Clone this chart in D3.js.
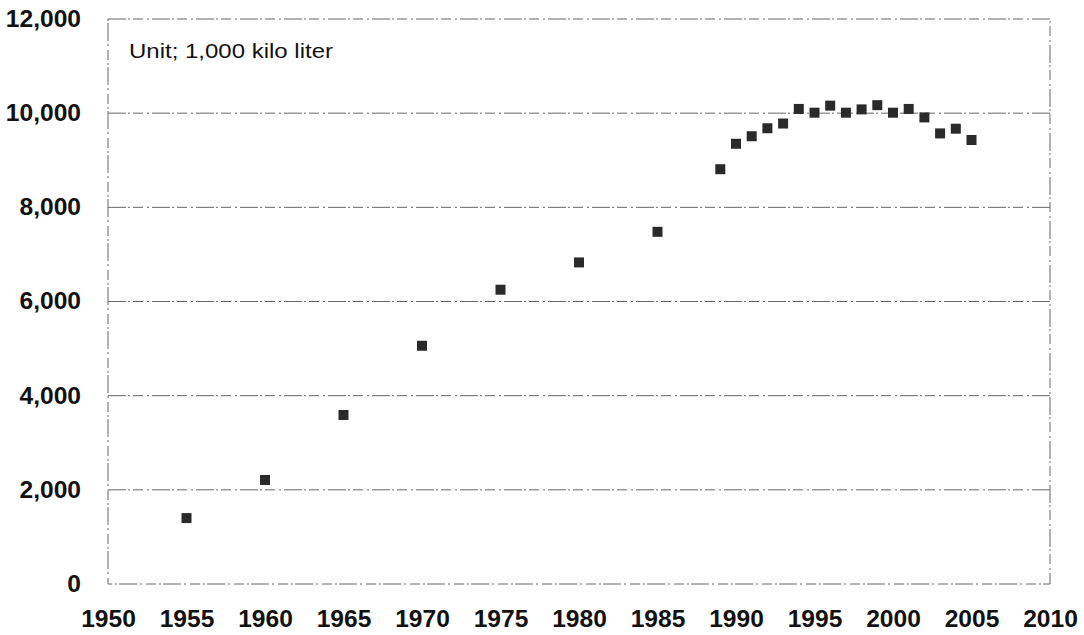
<!DOCTYPE html>
<html>
<head>
<meta charset="utf-8">
<script src="https://cdn.jsdelivr.net/npm/d3@7"></script>
<style>
  body { margin: 0; background: #fff; }
  #chart { width: 1084px; height: 635px; }
  .tick text { font-family: "Liberation Sans", Arial, sans-serif; font-weight: bold; fill: #111; }
</style>
</head>
<body>
<div id="chart"></div>
<script>
// data
let years = [1955, 1960, 1965, 1970, 1975, 1980, 1985, 1989, 1990, 1991, 1992, 1993, 1994, 1995,
  1996, 1997, 1998, 1999, 2000, 2001, 2002, 2003, 2004, 2005];
let volumes = [1400, 2210, 3590, 5060, 6250, 6830, 7480, 8810, 9350, 9510, 9680, 9780, 10090, 10010,
  10160, 10010, 10080, 10170, 10010, 10090, 9910, 9570, 9670, 9430];
let xTicks = [1950, 1955, 1960, 1965, 1970, 1975, 1980, 1985, 1990, 1995, 2000, 2005, 2010];
let yTicks = [0, 2000, 4000, 6000, 8000, 10000, 12000];
let unitLabel = "Unit; 1,000 kilo liter";

let width = 1084;
let height = 635;
let margin = { top: 19, bottom: 51, left: 108, right: 34 };
let lineColor = "#666";
let dotColor = "#2a2a2a";
let dashes = "18,2,2,3,10,4,2,3";
let stretch = 1.07; // the scan is a little wider than it is tall

let svg = d3.select("#chart").append("svg")
  .attr("width", width)
  .attr("height", height);

let xScale = d3.scaleLinear()
  .domain([1950, 2010])
  .range([margin.left, width - margin.right]);

let yScale = d3.scaleLinear()
  .domain([0, 12000])
  .range([height - margin.bottom, margin.top]);

// gridlines
svg.append("g")
  .selectAll("line")
  .data(yTicks.filter(d => d > 0 && d < 12000))
  .enter()
  .append("line")
  .attr("x1", xScale(1950))
  .attr("x2", xScale(2010))
  .attr("y1", d => yScale(d))
  .attr("y2", d => yScale(d))
  .attr("stroke", lineColor)
  .attr("stroke-width", 1)
  .attr("stroke-dasharray", dashes);

// plot frame
svg.append("rect")
  .attr("x", xScale(1950))
  .attr("y", yScale(12000))
  .attr("width", xScale(2010) - xScale(1950))
  .attr("height", yScale(0) - yScale(12000))
  .attr("fill", "none")
  .attr("stroke", lineColor)
  .attr("stroke-width", 1)
  .attr("stroke-dasharray", dashes);

// axes (labels only, lines come from the frame)
let xAxis = svg.append("g")
  .attr("transform", `translate(0, ${yScale(0)})`)
  .call(d3.axisBottom(xScale).tickValues(xTicks).tickFormat(d3.format("d")).tickSize(0).tickPadding(27));
xAxis.select(".domain").remove();
xAxis.selectAll("text")
  .attr("font-size", "23px")
  .attr("transform", `scale(${stretch},1)`);

let yAxis = svg.append("g")
  .attr("transform", `translate(${xScale(1950)}, 0)`)
  .call(d3.axisLeft(yScale).tickValues(yTicks).tickFormat(d3.format(",")).tickSize(0).tickPadding(27));
yAxis.select(".domain").remove();
yAxis.selectAll("text")
  .attr("font-size", "23px")
  .attr("x", 0)
  .attr("transform", `translate(-27,0) scale(${stretch},1)`);

// markers
let size = 10;
svg.append("g")
  .selectAll("rect")
  .data(years)
  .enter()
  .append("rect")
  .attr("x", (d, i) => xScale(d) - size / 2)
  .attr("y", (d, i) => yScale(volumes[i]) - size / 2)
  .attr("width", size)
  .attr("height", size)
  .attr("fill", dotColor);

// unit note
let noteX = xScale(1950) + 21;
svg.append("text")
  .text(unitLabel)
  .attr("x", 0)
  .attr("y", 0)
  .attr("transform", `translate(${noteX}, 58) scale(1.2,1)`)
  .attr("font-size", "20px")
  .attr("font-family", "Liberation Sans, Arial, sans-serif")
  .attr("fill", "#111");
</script>
</body>
</html>
